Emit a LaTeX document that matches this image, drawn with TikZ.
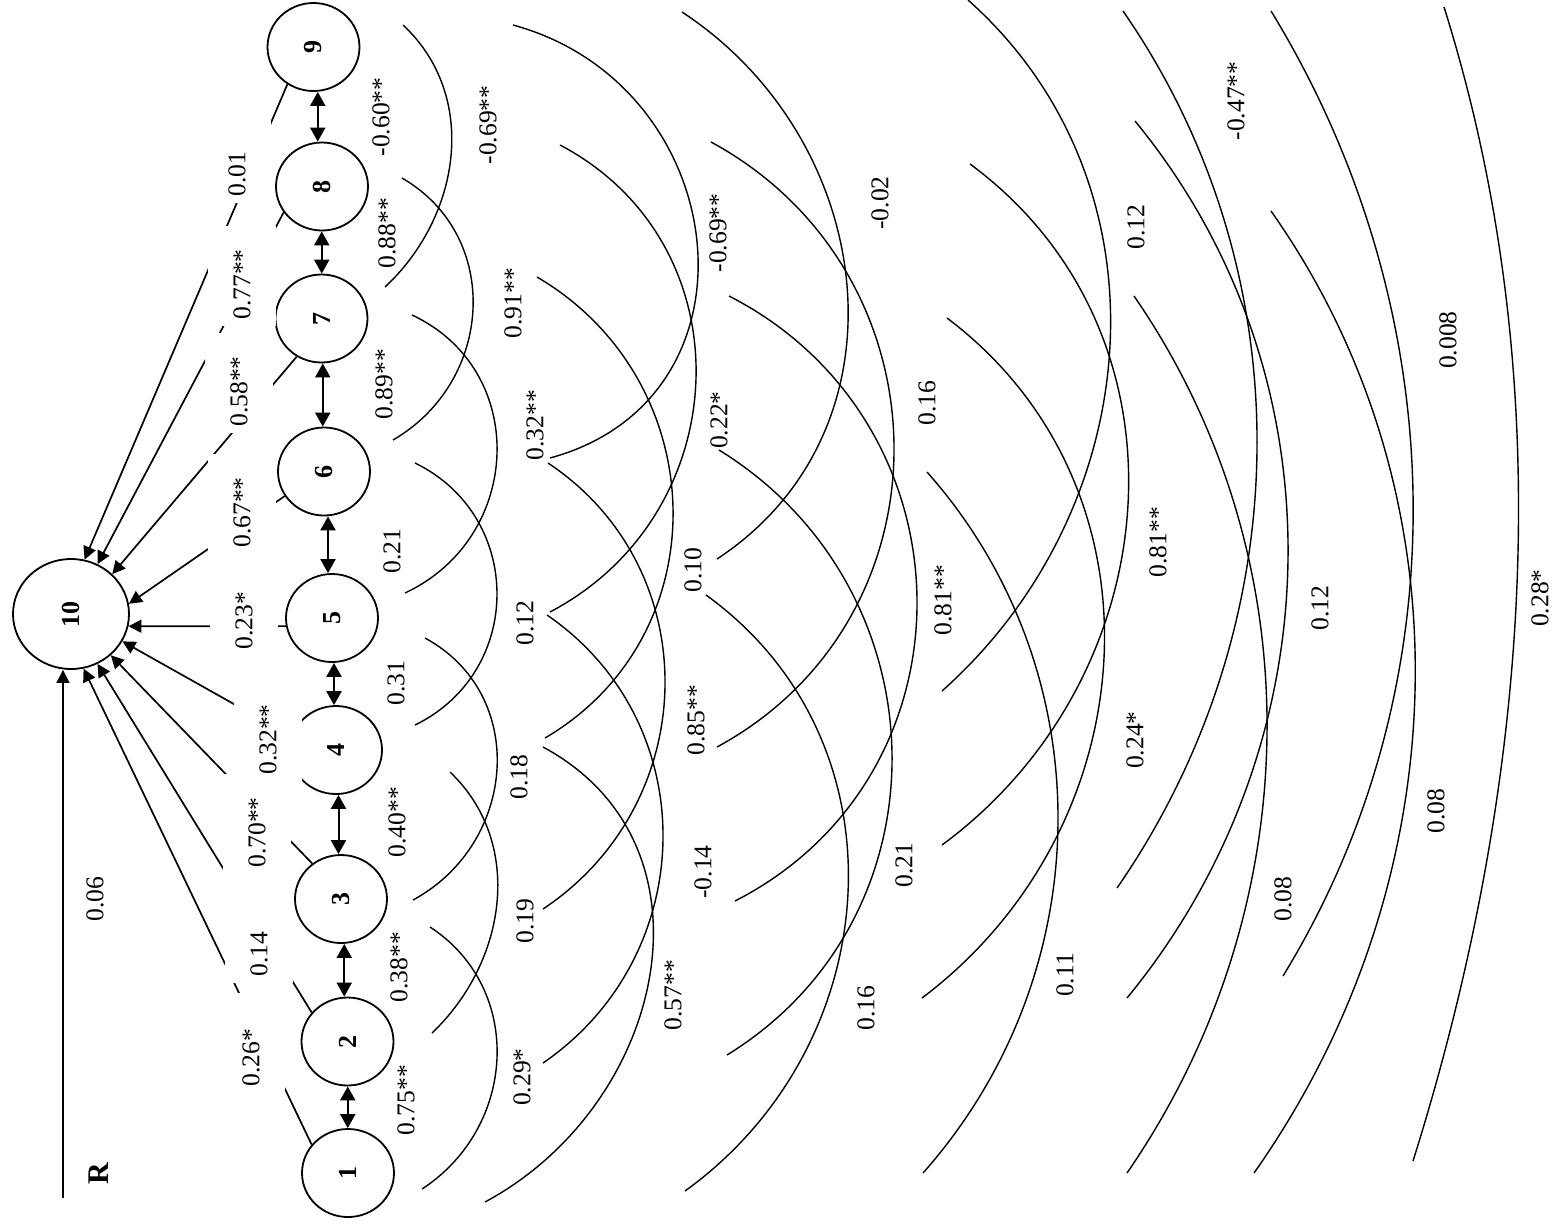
\documentclass[tikz,border=0pt]{standalone}
\usepackage{fontspec}
\setmainfont{Liberation Serif}
\usepackage{graphicx}
\usepackage{tikz}
\usetikzlibrary{arrows.meta,shapes.geometric,calc}

\newcommand{\lblfont}{\fontsize{12.8pt}{15pt}\selectfont}
\newcommand{\rotnum}[1]{\rotatebox{90}{\textbf{#1}}}

\tikzset{
  var/.style={draw, ellipse, line width=0.9pt, minimum width=46pt, minimum height=44pt,
    inner sep=0pt, font=\fontsize{13pt}{15pt}\selectfont},
  outcome/.style={var, minimum width=58pt, minimum height=55pt},
  arr/.style={-{Triangle[width=6.5pt,length=6.5pt]}, line width=0.85pt},
  dbl/.style={{Triangle[width=7.5pt,length=7pt]}-{Triangle[width=7.5pt,length=7pt]}, line width=1pt},
  corr/.style={line width=0.7pt},
  clab/.style={rotate=90, inner sep=0pt, font=\lblfont},
  plab/.style={rotate=90, fill=white, anchor=west, minimum height=34pt,
    inner xsep=3pt, inner ysep=0pt, align=left, font=\lblfont},
}

\begin{document}
\begin{tikzpicture}[x=0.5pt, y=-0.5pt]
\useasboundingbox (0,0) rectangle (1553,1228);

% variables 1-9 and the outcome 10
\foreach \n/\px/\py in {1/348/1173, 2/347.5/1041.5, 3/341/899, 4/336/750, 5/332/618,
                        6/324/471.5, 7/321.5/318.5, 8/322/186.5, 9/313.5/47}
  \node[var] (n\n) at (\px,\py) {\rotnum{\n}};
\node[outcome] (n10) at (71,614) {\rotnum{10}};

% direct paths
\foreach \n/\a/\b in {1/142/-77.7, 2/141/-62, 3/129/-46, 4/163.8/-28.2, 5/190/-12,
                      6/212.7/10.9, 7/237.5/44.2, 8/214.2/62.3, 9/235.1/76.3}
  \draw[arr] (n\n.\a) -- (n10.\b);

\coordinate (rtail) at (63,1198);
\draw[arr] (rtail) -- (rtail |- n10.south);
\node[clab, font=\fontsize{15pt}{17pt}\selectfont\bfseries] (rlab) at (99,1174) {R};
\node[clab] (p0) at (95,899) {0.06};

% neighbouring correlations
\foreach \a/\b in {1/2,2/3,3/4,4/5,5/6,6/7,7/8,8/9}
  \draw[dbl] let \p1=(n\a.north), \p2=(n\b.south) in
    ({(\x1+\x2)/2},\y1) -- ({(\x1+\x2)/2},\y2);

% correlation arcs
\foreach \tx/\ty/\ex/\ey/\bx in {
    403/25/385/287/451, 402/178/393/440/473, 412/315/405/593/497, 415/463/415/725/497,
    425/638/413/900/497, 450/772/432/1033/497, 430/927/422/1189/497,
    513/25/550/458/697, 560/145/550/612/696, 537/277/545/738/673, 548/463/543/909/665,
    547/615/543/1063/663, 543/747/485/1202/650,
    682/12/717/559/847, 711/142/717/747/894, 729/296/735/901/917, 719/450/727/1055/892,
    706/595/685/1191/848,
    968/0/942/691/1110, 970/164/942/845/1128, 947/318/922/998/1104, 927/472/923/1173/1058,
    1123/11/1117/888/1257, 1135/121/1127/998/1288, 1134/296/1127/1173/1267,
    1271/11/1283/976/1413, 1271/211/1254/1173/1415,
    1444/7/1413/1161/1517}{
  \pgfmathsetmacro{\w}{\bx-(\tx+\ex)/2}
  \pgfmathsetmacro{\s}{4/3*\w*cot(2*atan(2*\w/(\ey-\ty)))}
  \draw[corr] (\tx,\ty) .. controls ({\tx+4/3*\w},{\ty+\s}) and ({\ex+4/3*\w},{\ey-\s}) .. (\ex,\ey);
}

\foreach \px/\py/\t [count=\k] in {
    406/1100/0.75**, 399/967/0.38**, 397/822/0.40**, 396/683/0.31, 392/551/0.21,
    384/384/0.89**, 387/233/0.88**, 381/117/-0.60**,
    522/1077/0.29*, 525/921/0.19, 519/777/0.18, 525/623/0.12, 535/425/0.32**,
    513/303/0.91**, 488/125/-0.69**,
    673/995/0.57**, 703/872/-0.14, 696/720/0.85**, 693/570/0.10, 719/420/0.22*,
    718/233/-0.69**,
    866/1008/0.16, 904/865/0.21, 943/600/0.81**, 927/403/0.16, 880/203/-0.02,
    1065/975/0.11, 1135/740/0.24*, 1158/542/0.81**, 1136/227/0.12,
    1283/899/0.08, 1320/608/0.12, 1236/101/-0.47**,
    1436/811/0.08, 1448/340/0.008,
    1540/598/0.28*}
  \node[clab] (c\k) at (\px,\py) {\t};

% path coefficients
\foreach \px/\py/\len/\t [count=\k] in {251/1087/44/0.26*, 259/977/50/0.14, 257/868/44/0.70**,
    268/775/44/0.32**, 244/650/44/0.23*, 242/548/44/0.67**, 239/427/44/0.58**,
    242/320/44/0.77**, 237/197/44/0.01}
  \node[plab, text width=\len pt] (p\k) at (\px,\py+6) {\t};
\end{tikzpicture}
\end{document}
